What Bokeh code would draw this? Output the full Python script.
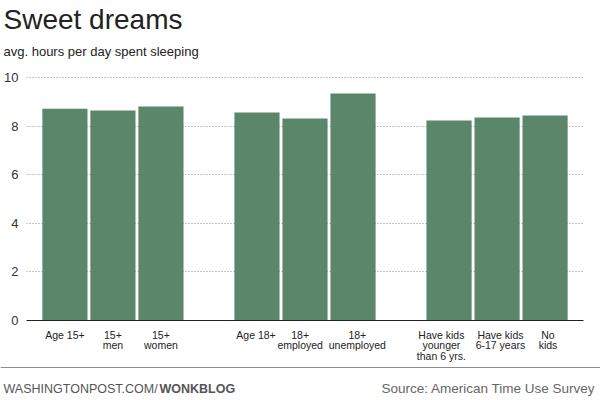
from bokeh.plotting import figure
from bokeh.layouts import column
from bokeh.models import Range1d, Span, FixedTicker, ColumnDataSource
from bokeh.core.properties import value
from bokeh.embed import file_html
from bokeh.resources import INLINE

# ---- data ----
groups = ["Age", "Employment", "Children"]
group_of = [0, 0, 0, 1, 1, 1, 2, 2, 2]
categories = ["Age 15+", "15+\nmen", "15+\nwomen",
              "Age 18+", "18+\nemployed", "18+\nunemployed",
              "Have kids\nyounger\nthan 6 yrs.", "Have kids\n6-17 years", "No\nkids"]
hours = [8.71, 8.64, 8.81, 8.56, 8.31, 9.34, 8.23, 8.35, 8.44]
y_ticks = [0, 2, 4, 6, 8, 10]

title_text = "Sweet dreams"
subtitle_text = "avg. hours per day spent sleeping"
credit_plain = "WASHINGTONPOST.COM/"
credit_bold = "WONKBLOG"
source_text = "Source: American Time Use Survey"

# ---- style ----
FONT = "Liberation Sans"
BAR = "#5a866a"
W = 600
# small horizontal nudges of the category labels (in slot widths), as in the original
label_nudge = [0, 0, 0, -0.02, -0.1, 0.09, -0.16, 0.07, 0.06]

# x position of each category: its index plus one empty slot between groups
xpos = [i + g for i, g in enumerate(group_of)]
src = ColumnDataSource(dict(x=xpos, top=hours, label=categories))
label_ticks = [round(x + n, 3) for x, n in zip(xpos, label_nudge)]


def base(y, size):
    # the text glyph lands about 0.29 em below the requested baseline
    return y - 0.29 * size


def blank(h):
    f = figure(width=W, height=h, output_backend="svg", toolbar_location=None,
               title_location=None,
               x_range=Range1d(0, W), y_range=Range1d(h, 0),
               x_axis_location=None, y_axis_location=None, frame_align=False,
               min_border_left=0, min_border_right=0, min_border_top=0, min_border_bottom=0)
    f.outline_line_color = None
    f.grid.grid_line_color = None
    return f


# ---- header ----
hd = blank(60)
hd.text(x=[3], y=[base(27, 28)], text=[title_text], text_font=value(FONT),
        text_font_size="28px", text_color="#222222", text_baseline="alphabetic")
hd.text(x=[3], y=[base(55, 13)], text=[subtitle_text], text_font=value(FONT),
        text_font_size="13px", text_color="#222222", text_baseline="alphabetic")

# ---- main chart ----
p = figure(frame_width=557, frame_height=244, output_backend="svg", toolbar_location=None,
           title_location=None,
           x_range=Range1d(-0.8, 10.8), y_range=Range1d(0, 10.04), frame_align=False,
           min_border_left=26, min_border_right=17, min_border_top=16, min_border_bottom=46)
p.outline_line_color = None

p.vbar(x="x", top="top", width=0.94, source=src, fill_color=BAR, line_color=None)

p.yaxis.ticker = FixedTicker(ticks=y_ticks)
p.yaxis.axis_line_color = None
p.yaxis.major_tick_line_color = None
p.yaxis.minor_tick_line_color = None
p.yaxis.major_tick_out = 0
p.yaxis.major_tick_in = 0
p.yaxis.minor_tick_out = 0
p.yaxis.major_label_standoff = 8
p.yaxis.major_label_text_font = FONT
p.yaxis.major_label_text_font_size = "13px"
p.yaxis.major_label_text_color = "#333333"

p.ygrid.ticker = FixedTicker(ticks=y_ticks)
p.ygrid.grid_line_color = "#8a8a8a"
p.ygrid.grid_line_dash = "1 2"
p.ygrid.grid_line_width = 1
p.xgrid.grid_line_color = None

xa = p.xaxis[0]
xa.ticker = FixedTicker(ticks=label_ticks)
xa.major_label_overrides = {t: lab for t, lab in zip(label_ticks, categories)}
xa.axis_line_color = "#222222"
xa.axis_line_width = 1.2
xa.major_tick_line_color = None
xa.minor_tick_line_color = None
xa.major_tick_out = 0
xa.major_tick_in = 0
xa.minor_tick_out = 0
xa.major_label_standoff = 8
xa.major_label_text_font = FONT
xa.major_label_text_font_size = "10.5px"
xa.major_label_text_color = "#222222"
xa.major_label_text_line_height = 0.9

# ---- footer ----
ft = blank(34)
ft.add_layout(Span(location=1, dimension="width", line_color="#8c8c8c", line_width=1))
ft.text(x=[3], y=[base(26, 12.5)], text=[credit_plain], text_font=value(FONT),
        text_font_size="12.5px", text_color="#555555", text_baseline="alphabetic")
ft.text(x=[159], y=[base(26, 12.5)], text=[credit_bold], text_font=value(FONT),
        text_font_size="12.5px", text_font_style="bold", text_color="#555555",
        text_baseline="alphabetic")
ft.text(x=[595], y=[base(26, 13.5)], text=[source_text], text_font=value(FONT),
        text_font_size="13.5px", text_align="right", text_color="#666666",
        text_baseline="alphabetic")

layout = column(hd, p, ft, spacing=0)
open("out.html", "w").write(file_html(layout, INLINE))
